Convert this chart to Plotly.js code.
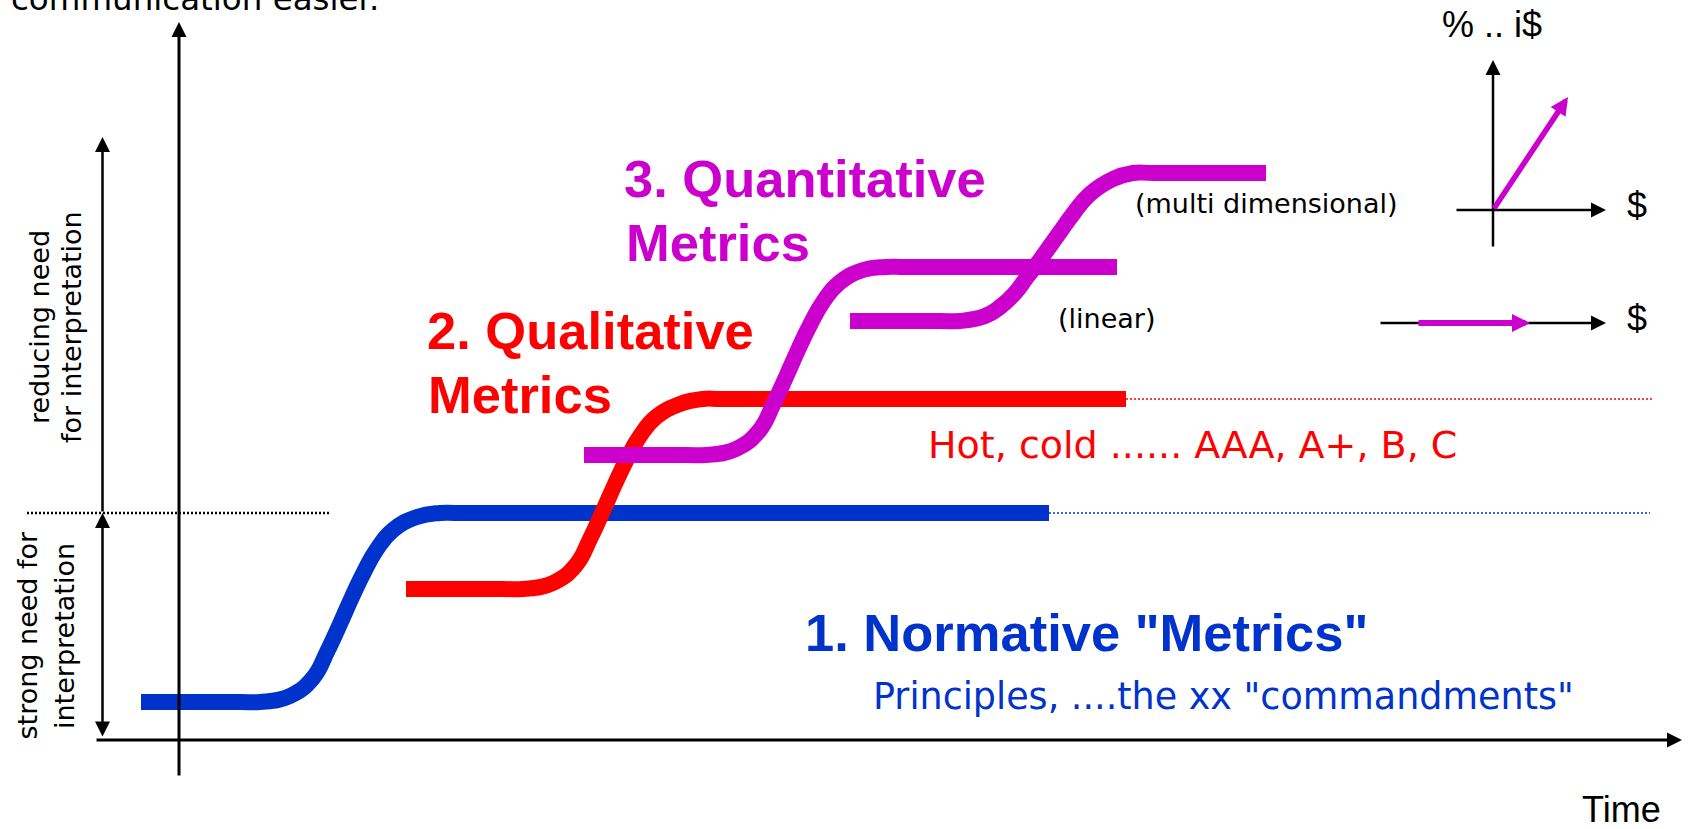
<!DOCTYPE html>
<html>
<head>
<meta charset="utf-8">
<script src="https://cdn.plot.ly/plotly-3.0.1.min.js"></script>
<style>html,body{margin:0;padding:0;background:#fff;overflow:hidden}#chart{width:1691px;height:829px}</style>
</head>
<body>
<div id="chart"></div>
<script>
// ---- Stage curves (time on x, reduction of interpretation need on y) ----
var normativeX = [-3.8, 6.1, 8.1, 11.1, 13.4, 14.8, 16.1, 17.3, 18.5, 19.8, 21.4, 23.8, 26.1, 28.1, 87.0];
var normativeY = [3.8, 3.8, 3.8, 4.4, 6.2, 8.8, 11.6, 14.3, 16.8, 19.1, 21.0, 22.3, 22.7, 22.7, 22.7];
var normativeTailX = [87.0, 147.1];
var normativeTailY = [22.7, 22.7];

var qualitativeX = [22.7, 32.4, 34.4, 37.4, 39.7, 41.1, 42.4, 43.6, 44.8, 46.1, 47.7, 50.1, 52.4, 54.4, 94.7];
var qualitativeY = [15.1, 15.1, 15.1, 15.7, 17.5, 20.1, 22.9, 25.6, 28.1, 30.4, 32.3, 33.6, 34.1, 34.1, 34.1];
var qualitativeTailX = [94.7, 147.3];
var qualitativeTailY = [34.1, 34.1];

var linearX = [40.5, 50.7, 52.7, 55.7, 58.0, 59.4, 60.7, 61.9, 63.1, 64.4, 66.0, 68.4, 70.7, 72.7, 93.8];
var linearY = [28.5, 28.5, 28.5, 29.1, 30.9, 33.5, 36.3, 39.0, 41.5, 43.8, 45.7, 47.0, 47.3, 47.3, 47.3];

var multiX = [67.1, 76.1, 78.1, 80.6, 82.1, 83.6, 84.8, 86.1, 87.1, 88.1, 89.4, 91.1, 93.4, 95.4, 97.4, 108.7];
var multiY = [41.9, 41.9, 41.9, 42.4, 43.3, 44.7, 46.3, 48.0, 49.4, 50.8, 52.6, 54.6, 56.1, 56.7, 56.7, 56.7];

var thresholdX = [-15.2, 15.0];
var thresholdY = [22.7, 22.7];

// ---- Texts ----
var stageLabels = ['1. Normative "Metrics"', '2. Qualitative', 'Metrics', '3. Quantitative', 'Metrics'];
var stageNotes = ['Principles, ....the xx "commandments"', 'Hot, cold ...... AAA, A+, B, C', '(linear)', '(multi dimensional)'];
var sideLabels = ['reducing need', 'for interpretation', 'strong need for', 'interpretation'];
var axisLabel = 'Time';
var topText = 'communication easier.';
var insetLabels = ['% .. i$', '$', '$'];

var BLUE = '#0033CC', RED = '#FF0000', MAG = '#CC00CC';
var BOLD = 'Liberation Sans, Arial, sans-serif';
var REG = 'DejaVu Sans, sans-serif';
var ARIAL = 'Liberation Sans, Arial, sans-serif';

function curve(x, y, color) {
  return {x: x, y: y, type: 'scatter', mode: 'lines', hoverinfo: 'skip',
          line: {color: color, width: 16, shape: 'spline', smoothing: 1.3, simplify: false}};
}
function dotted(x, y, color, w) {
  return {x: x, y: y, type: 'scatter', mode: 'lines', hoverinfo: 'skip',
          line: {color: color, width: w, dash: '2px,2px', simplify: false}};
}

var data = [
  dotted(thresholdX, thresholdY, '#000', 2.5),
  dotted(normativeTailX, normativeTailY, BLUE, 1.5),
  dotted(qualitativeTailX, qualitativeTailY, RED, 1.5),
  curve(normativeX, normativeY, BLUE),
  curve(qualitativeX, qualitativeY, RED),
  curve(linearX, linearY, MAG),
  curve(multiX, multiY, MAG)
];

function txt(t, x, y, size, color, family, opts) {
  var a = {text: t, x: x, y: y, xref: 'x', yref: 'y', showarrow: false,
           xanchor: 'left', yanchor: 'middle', borderpad: 0, borderwidth: 0,
           font: {size: size, color: color, family: family}};
  for (var k in (opts || {})) a[k] = opts[k];
  return a;
}
function bold(t, x, y, color) {
  var a = txt('<b>' + t + '</b>', x, y, 52.5, color, BOLD);
  a.font.weight = 'bold';
  return a;
}
function arrow(x0, y0, x1, y1, color, w, size, both) {
  var a = {text: '', x: x1, y: y1, ax: x0, ay: y0, xref: 'x', yref: 'y', axref: 'x', ayref: 'y',
           showarrow: true, arrowhead: 2, arrowsize: size, arrowwidth: w, arrowcolor: color,
           standoff: 0, startstandoff: 0};
  if (both) { a.arrowside = 'end+start'; a.startarrowhead = 2; a.startarrowsize = size; }
  return a;
}

var annotations = [
  // axes
  arrow(0, -3.7, 0, 71.8, '#000', 3, 1),
  arrow(-8.4, 0, 150.3, 0, '#000', 3, 1),
  arrow(-7.65, 22.7, -7.65, 60.3, '#000', 2.5, 1.2),
  arrow(-7.65, 0.2, -7.65, 22.7, '#000', 2.5, 1.2, true),
  // inset
  arrow(131.4, 49.2, 131.4, 68.0, '#000', 2.5, 1.2),
  arrow(127.6, 53.0, 142.7, 53.0, '#000', 2.5, 1.2),
  arrow(120.0, 41.7, 142.7, 41.7, '#000', 2.5, 1.2),
  arrow(131.4, 53.0, 138.9, 64.3, MAG, 5.5, 0.65),
  arrow(123.8, 41.7, 135.1, 41.7, MAG, 6, 0.6),
  // stage titles
  bold(stageLabels[0], 62.6, 10.8, BLUE),
  bold(stageLabels[1], 24.8, 41.0, RED),
  bold(stageLabels[2], 24.9, 34.6, RED),
  bold(stageLabels[3], 44.5, 56.2, MAG),
  bold(stageLabels[4], 44.7, 49.8, MAG),
  // notes
  txt(stageNotes[0], 69.4, 4.4, 36.5, BLUE, REG),
  txt(stageNotes[1], 74.9, 29.5, 38, RED, REG),
  txt(stageNotes[2], 87.9, 42.2, 27, '#000', REG),
  txt(stageNotes[3], 95.6, 53.7, 27, '#000', REG),
  // side labels
  txt(sideLabels[0], -14.0, 41.3, 27, '#000', REG, {textangle: -90, xanchor: 'center'}),
  txt(sideLabels[1], -10.8, 41.3, 27, '#000', REG, {textangle: -90, xanchor: 'center'}),
  txt(sideLabels[2], -15.25, 10.5, 27, '#000', REG, {textangle: -90, xanchor: 'center'}),
  txt(sideLabels[3], -11.5, 10.4, 27, '#000', REG, {textangle: -90, xanchor: 'center'}),
  // misc
  txt(axisLabel, 140.3, -6.95, 36, '#000', ARIAL),
  txt(topText, -16.8, 72.2, 32.5, '#000', REG, {yanchor: 'bottom'}),
  txt(insetLabels[0], 126.3, 71.55, 36, '#000', ARIAL),
  txt(insetLabels[1], 144.8, 53.5, 36, '#000', ARIAL),
  txt(insetLabels[2], 144.8, 42.2, 36, '#000', ARIAL)
];

var hidden = {visible: false, showgrid: false, zeroline: false, showticklabels: false, fixedrange: true};
var layout = {
  width: 1691, height: 829,
  margin: {l: 0, r: 0, t: 0, b: 0, pad: 0},
  paper_bgcolor: '#fff', plot_bgcolor: '#fff',
  showlegend: false,
  xaxis: Object.assign({range: [-17.9, 151.2]}, hidden),
  yaxis: Object.assign({range: [-8.9, 74.0]}, hidden),
  annotations: annotations
};
Plotly.newPlot('chart', data, layout, {staticPlot: true, displayModeBar: false});
</script>
</body>
</html>
